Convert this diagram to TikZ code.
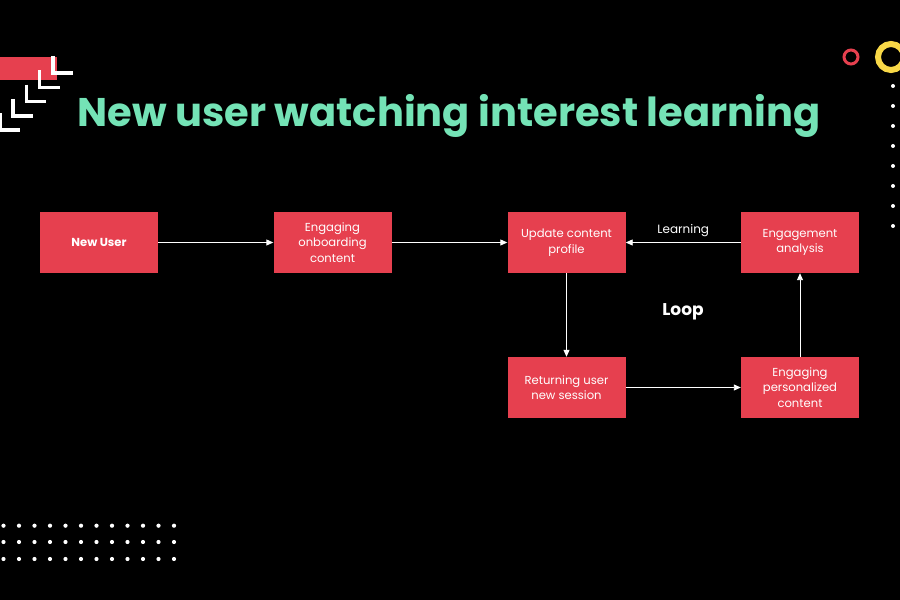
\documentclass[tikz,border=0pt]{standalone}
\usepackage{fontspec}
\setmainfont{Poppins}
\usetikzlibrary{arrows.meta}

\definecolor{boxred}{HTML}{E6404F}
\definecolor{mint}{HTML}{74E3B6}
\definecolor{sunny}{HTML}{F8D847}

\tikzset{
    stepbox/.style = {fill=boxred, text=white, minimum width=118pt, minimum height=61pt,
        inner sep=2pt, align=center, font=\fontsize{11.6}{15.5}\selectfont},
    flow/.style = {white, line width=0.9pt, -{Triangle[length=7pt,width=6pt]}}
}

\begin{document}
\begin{tikzpicture}[x=1pt,y=1pt]
    \fill[black] (0,0) rectangle (900,600);
    \useasboundingbox (0,0) rectangle (900,600);

    % decorations
    \fill[boxred] (0,520) rectangle (57,543);
    \foreach \i in {0,...,4}
        \draw[white, line width=3.5pt] ({53-13.3*\i},{544-14.3*\i}) -- ({53-13.3*\i},{527-14.3*\i}) -- ({73-13.3*\i},{527-14.3*\i});
    \draw[boxred, line width=3pt] (851,543) circle (7);
    \draw[sunny, line width=6pt] (891,543) circle (13);
    \foreach \y in {374,394,...,514}
        \fill[white] (893,\y) circle (2);
    \foreach \i in {0,...,11}
        \foreach \y in {41,58,74.3}
            \fill[white] ({3.5+15.5*\i},\y) circle (2.1);

    \node[text=mint, font=\fontsize{40}{44}\selectfont\bfseries] (T) at (449,484) {New user watching interest learning};

    \node[stepbox, font=\fontsize{11.6}{15.5}\selectfont\bfseries] (NU) at (99,357.5) {New User};
    \node[stepbox] (EOC) at (332.5,357.5) {Engaging\\onboarding\\content};
    \node[stepbox] (UCP) at (566.5,357.5) {Update content\\profile};
    \node[stepbox] (EA) at (800,357.5) {Engagement\\analysis};
    \node[stepbox] (RU) at (566.5,212.5) {Returning user\\new session};
    \node[stepbox] (EPC) at (800,212.5) {Engaging\\personalized\\content};
    \node[text=white, font=\fontsize{17}{19}\selectfont\bfseries] (L) at (683,288) {Loop};

    \draw[flow] (NU) to (EOC);
    \draw[flow] (EOC) to (UCP);
    \draw[flow] (EA) to node[above=2pt, text=white, font=\fontsize{12}{14}\selectfont] {Learning} (UCP);
    \draw[flow] (UCP) to (RU);
    \draw[flow] (RU) to (EPC);
    \draw[flow] (EPC) to (EA);
\end{tikzpicture}
\end{document}
